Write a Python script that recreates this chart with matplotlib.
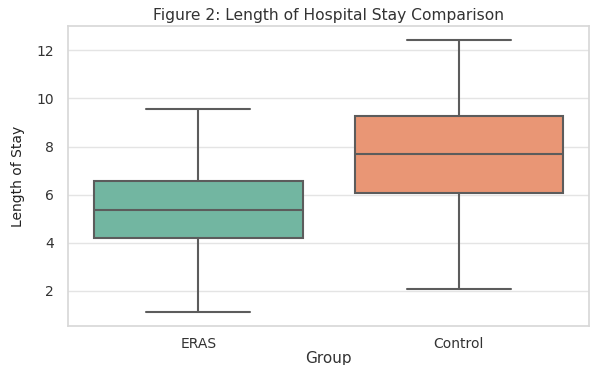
# Length of stay: ERAS vs control boxplot
import matplotlib
matplotlib.use('Agg')
import matplotlib.pyplot as plt
import seaborn as sns

groups = ['ERAS', 'Control']
whisker_low = [1.10, 2.05]
q1 = [4.19, 6.05]
median = [5.36, 7.69]
q3 = [6.58, 9.29]
whisker_high = [9.57, 12.45]

sns.set_theme(style='whitegrid', rc={'grid.color': '#e4e4e4', 'axes.edgecolor': '#d8d8d8'})
plt.rcParams['font.family'] = ['DejaVu Sans']
plt.rcParams['font.sans-serif'] = ['DejaVu Sans']

colors = [sns.desaturate(c, 0.75) for c in sns.color_palette('Set2', 2)]
line_col = '#5c5c5c'

stats = []
for i, g in enumerate(groups):
    stats.append({'label': g, 'whislo': whisker_low[i], 'q1': q1[i], 'med': median[i],
                  'q3': q3[i], 'whishi': whisker_high[i], 'fliers': []})

fig, ax = plt.subplots(figsize=(5.91, 3.65), dpi=100)
fig.subplots_adjust(left=0.115, right=0.997, top=0.929, bottom=0.107)

bp = ax.bxp(stats, positions=range(len(groups)), widths=0.8, capwidths=0.4,
            patch_artist=True, showfliers=False,
            boxprops=dict(edgecolor=line_col, linewidth=1.5),
            medianprops=dict(color=line_col, linewidth=1.5),
            whiskerprops=dict(color=line_col, linewidth=1.5),
            capprops=dict(color=line_col, linewidth=1.5))
for patch, c in zip(bp['boxes'], colors):
    patch.set_facecolor(c)

ax.set_xlim(-0.5, 1.5)
ax.set_ylim(0.53, 13.02)
ax.set_yticks([2, 4, 6, 8, 10, 12])
ax.xaxis.grid(False)
ax.tick_params(axis='y', labelsize=10, colors='#333333', pad=4)
ax.tick_params(axis='x', labelsize=10, colors='#333333', pad=2)
ax.set_title('Figure 2: Length of Hospital Stay Comparison', fontsize=11.2,
             family='DejaVu Sans', color='#333333', pad=4)
ax.set_xlabel('Group', fontsize=11, family='DejaVu Sans', color='#333333', labelpad=0)
ax.set_ylabel('Length of Stay', fontsize=10, color='#222222',
              family=['Liberation Sans Narrow', 'DejaVu Sans'], labelpad=8)

fig.savefig('out.png', dpi=100)
